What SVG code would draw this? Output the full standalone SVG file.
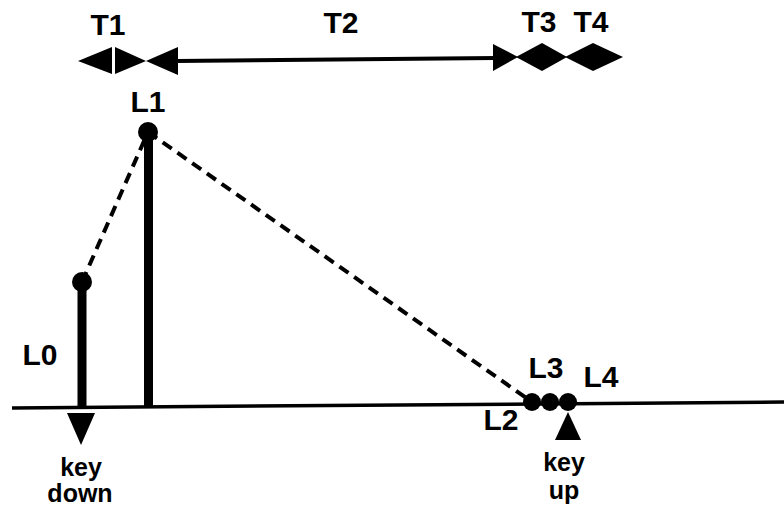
<svg xmlns="http://www.w3.org/2000/svg" width="784" height="507" viewBox="0 0 784 507">
<style>
.lbl{font-family:"Liberation Sans",Arial,sans-serif;font-weight:bold;font-size:30px;fill:#000;text-anchor:middle}
.key{font-family:"Liberation Sans",Arial,sans-serif;font-weight:bold;font-size:25px;fill:#000;text-anchor:middle}
.bar{stroke:#000;stroke-width:9;fill:none}
.dash{stroke:#000;stroke-width:4;stroke-dasharray:11 7;fill:none}
.dot{fill:#000}
</style>
<rect width="784" height="507" fill="#fff"/>
<g id="connectors">
  <line id="ground" x1="12" y1="408" x2="784" y2="402" stroke="#000" stroke-width="3.5"/>
  <line class="dash" x1="82" y1="282" x2="148" y2="132"/>
  <line class="dash" x1="148" y1="132" x2="532" y2="402"/>
  <line id="t2line" x1="176" y1="61" x2="496" y2="58" stroke="#000" stroke-width="4"/>
</g>
<g id="timeline">
  <polygon id="t1-left" points="78,61 112,47 112,74"/>
  <polygon id="t1-right" points="115,47 146,61 115,74"/>
  <polygon id="t2-left" points="146,61 178,47 178,75"/>
  <polygon id="t2-right" points="493,44 518,57 493,71"/>
  <polygon id="t3" points="516,57 542,43 567,57 542,71"/>
  <polygon id="t4" points="565,57 593,43 623,57 593,71"/>
</g>
<g id="T1"><text class="lbl" x="108" y="35">T1</text></g>
<g id="T2"><text class="lbl" x="341" y="33">T2</text></g>
<g id="T3"><text class="lbl" x="539" y="32">T3</text></g>
<g id="T4"><text class="lbl" x="591" y="32">T4</text></g>
<g id="L0">
  <line class="bar" x1="82" y1="282" x2="82" y2="407"/>
  <circle class="dot" cx="82" cy="282" r="10"/>
  <text class="lbl" x="40" y="365">L0</text>
</g>
<g id="L1">
  <line class="bar" x1="148.5" y1="132" x2="148.5" y2="407"/>
  <circle class="dot" cx="148" cy="132" r="10"/>
  <text class="lbl" x="148" y="112">L1</text>
</g>
<g id="L2">
  <circle class="dot" cx="532" cy="402" r="9"/>
  <text class="lbl" x="501" y="430">L2</text>
</g>
<g id="L3">
  <circle class="dot" cx="550" cy="402" r="9"/>
  <text class="lbl" x="546" y="378">L3</text>
</g>
<g id="L4">
  <circle class="dot" cx="568" cy="402" r="9"/>
  <text class="lbl" x="601" y="387">L4</text>
</g>
<g id="keydown">
  <polygon points="67,413 95,413 81,445"/>
  <text class="key" x="81" y="476">key</text>
  <text class="key" x="80" y="502">down</text>
</g>
<g id="keyup">
  <polygon points="568,412 581,440 555,440"/>
  <text class="key" x="564" y="471">key</text>
  <text class="key" x="564" y="499">up</text>
</g>
</svg>
